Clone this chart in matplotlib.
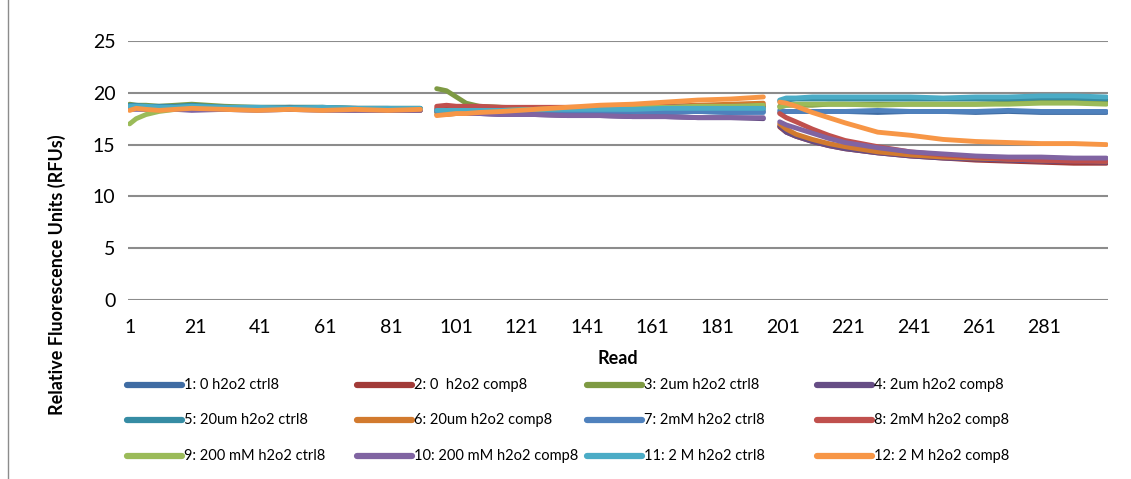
import matplotlib
matplotlib.use("Agg")
import matplotlib.pyplot as plt
from matplotlib.lines import Line2D

# ----------------- FONT -----------------
# Calibri is not available; Lato is the closest humanist sans here
plt.rcParams["font.family"] = ["Lato", "DejaVu Sans"]

# ----------------- DATA -----------------
# read numbers sampled in each of the three plate runs
reads_1 = [1, 3, 6, 10, 15, 20, 30, 40, 50, 60, 70, 80, 90]
reads_2 = [95, 98, 101, 104, 108, 115, 125, 135, 145, 155, 165, 175, 185, 195]
reads_3 = [200, 202, 205, 210, 215, 220, 230, 240, 250, 260, 270, 280, 290, 300]

labels = [
    "1: 0 h2o2 ctrl8", "2: 0  h2o2 comp8", "3: 2um h2o2 ctrl8", "4: 2um h2o2 comp8",
    "5: 20um h2o2 ctrl8", "6: 20um h2o2 comp8", "7: 2mM h2o2 ctrl8", "8: 2mM h2o2 comp8",
    "9: 200 mM h2o2 ctrl8", "10: 200 mM h2o2 comp8", "11: 2 M h2o2 ctrl8", "12: 2 M h2o2 comp8",
]
colors = ["#3F6CA3", "#A23B38", "#7E9A43", "#664D85", "#368CA4", "#D27A2E",
          "#4F81BD", "#C0504D", "#9BBB59", "#8064A2", "#4BACC6", "#F79646"]

s1 = [18.8, 18.7, 18.7, 18.6, 18.6, 18.7, 18.6, 18.5, 18.6, 18.5, 18.5, 18.5, 18.4,
      18.3, 18.3, 18.2, 18.2, 18.2, 18.2, 18.2, 18.2, 18.1, 18.2, 18.1, 18.2, 18.1, 18.2,
      18.1, 18.2, 18.2, 18.2, 18.2, 18.2, 18.1, 18.2, 18.2, 18.1, 18.2, 18.1, 18.1, 18.1]
s2 = [18.6, 18.6, 18.5, 18.5, 18.6, 18.5, 18.5, 18.5, 18.4, 18.5, 18.4, 18.4, 18.4,
      18.5, 18.5, 18.5, 18.5, 18.5, 18.5, 18.5, 18.5, 18.6, 18.6, 18.6, 18.6, 18.7, 18.7,
      16.7, 16.2, 15.8, 15.3, 14.9, 14.6, 14.2, 13.9, 13.7, 13.5, 13.4, 13.3, 13.2, 13.2]
s3 = [18.9, 18.8, 18.8, 18.7, 18.8, 18.9, 18.7, 18.6, 18.6, 18.6, 18.5, 18.5, 18.5,
      20.4, 20.2, 19.6, 19.0, 18.7, 18.6, 18.5, 18.5, 18.5, 18.5, 18.6, 18.6, 18.6, 18.6,
      18.7, 18.8, 18.8, 18.8, 18.9, 18.9, 18.9, 18.9, 18.9, 18.9, 19.0, 19.1, 19.1, 19.1]
s4 = [18.5, 18.5, 18.5, 18.4, 18.5, 18.5, 18.4, 18.4, 18.4, 18.4, 18.4, 18.3, 18.3,
      18.2, 18.1, 18.1, 18.0, 18.0, 17.9, 17.9, 17.8, 17.8, 17.7, 17.7, 17.6, 17.6, 17.5,
      16.8, 16.2, 15.8, 15.3, 14.9, 14.6, 14.2, 13.9, 13.7, 13.6, 13.5, 13.4, 13.4, 13.3]
s5 = [18.8, 18.8, 18.7, 18.7, 18.7, 18.8, 18.6, 18.6, 18.6, 18.6, 18.5, 18.5, 18.5,
      18.2, 18.2, 18.2, 18.2, 18.3, 18.3, 18.3, 18.3, 18.3, 18.4, 18.4, 18.4, 18.4, 18.4,
      19.2, 19.3, 19.4, 19.4, 19.4, 19.4, 19.4, 19.4, 19.4, 19.4, 19.4, 19.5, 19.5, 19.4]
s6 = [18.5, 18.5, 18.4, 18.5, 18.5, 18.4, 18.4, 18.4, 18.4, 18.4, 18.3, 18.4, 18.3,
      17.9, 17.9, 18.0, 18.0, 18.1, 18.2, 18.3, 18.4, 18.5, 18.6, 18.7, 18.8, 18.9, 19.0,
      17.0, 16.5, 16.0, 15.5, 15.1, 14.8, 14.3, 14.0, 13.8, 13.7, 13.6, 13.5, 13.5, 13.4]
s7 = [18.7, 18.7, 18.6, 18.6, 18.6, 18.6, 18.6, 18.5, 18.5, 18.5, 18.5, 18.4, 18.4,
      18.3, 18.2, 18.2, 18.2, 18.2, 18.2, 18.2, 18.2, 18.2, 18.2, 18.1, 18.2, 18.1, 18.1,
      18.3, 18.2, 18.2, 18.2, 18.2, 18.2, 18.3, 18.2, 18.2, 18.2, 18.3, 18.2, 18.2, 18.2]
s8 = [18.6, 18.6, 18.6, 18.5, 18.6, 18.5, 18.5, 18.5, 18.5, 18.4, 18.5, 18.4, 18.4,
      18.7, 18.8, 18.7, 18.7, 18.7, 18.6, 18.6, 18.6, 18.6, 18.6, 18.7, 18.7, 18.7, 18.8,
      18.0, 17.6, 17.2, 16.5, 15.9, 15.4, 14.8, 14.3, 14.0, 13.8, 13.6, 13.5, 13.4, 13.4]
s9 = [17.0, 17.5, 17.9, 18.2, 18.4, 18.5, 18.5, 18.5, 18.5, 18.5, 18.4, 18.4, 18.4,
      18.1, 18.1, 18.2, 18.2, 18.2, 18.3, 18.4, 18.5, 18.5, 18.6, 18.6, 18.7, 18.7, 18.8,
      18.6, 18.8, 18.9, 18.9, 18.9, 18.9, 18.8, 18.9, 18.9, 18.9, 18.9, 19.0, 19.0, 18.9]
s10 = [18.4, 18.4, 18.4, 18.4, 18.4, 18.3, 18.4, 18.3, 18.4, 18.3, 18.3, 18.3, 18.3,
       18.2, 18.1, 18.1, 18.0, 18.0, 17.9, 17.9, 17.8, 17.8, 17.7, 17.7, 17.6, 17.6, 17.6,
       17.2, 16.9, 16.6, 16.1, 15.6, 15.2, 14.7, 14.3, 14.1, 13.9, 13.8, 13.8, 13.7, 13.7]
s11 = [18.7, 18.7, 18.7, 18.6, 18.6, 18.7, 18.6, 18.6, 18.5, 18.6, 18.5, 18.5, 18.5,
       18.3, 18.3, 18.3, 18.3, 18.3, 18.3, 18.4, 18.4, 18.4, 18.4, 18.5, 18.5, 18.5, 18.5,
       19.3, 19.5, 19.5, 19.6, 19.6, 19.6, 19.6, 19.6, 19.5, 19.6, 19.6, 19.7, 19.7, 19.6]
s12 = [18.3, 18.5, 18.4, 18.3, 18.4, 18.5, 18.4, 18.3, 18.4, 18.3, 18.4, 18.3, 18.4,
       17.8, 17.9, 18.0, 18.0, 18.1, 18.2, 18.4, 18.6, 18.8, 18.9, 19.1, 19.3, 19.4, 19.6,
       19.1, 19.0, 18.7, 18.1, 17.6, 17.1, 16.2, 15.9, 15.5, 15.3, 15.2, 15.1, 15.1, 15.0]
series = [s1, s2, s3, s4, s5, s6, s7, s8, s9, s10, s11, s12]

y_ticks = [0, 5, 10, 15, 20, 25]
x_ticks = [1, 21, 41, 61, 81, 101, 121, 141, 161, 181, 201, 221, 241, 261, 281]

# ----------------- FIGURE -----------------
W, H = 1131, 479
fig = plt.figure(figsize=(W / 100, H / 100), dpi=100)
ax = fig.add_axes([128 / W, 1 - 300 / H, (1108 - 128) / W, (300 - 41) / H])

runs = [reads_1, reads_2, reads_3]
for vals, col in zip(series, colors):
    start = 0
    for reads in runs:
        ax.plot(reads, vals[start:start + len(reads)], color=col, lw=3.5,
                solid_capstyle="round", solid_joinstyle="round")
        start += len(reads)

ax.set_xlim(0.5, 300.5)
ax.set_ylim(0, 25)
ax.set_yticks(y_ticks)
ax.set_xticks(x_ticks)
ax.tick_params(length=0, labelsize=14, pad=9)
ax.tick_params(axis="x", pad=14)
ax.grid(axis="y", color="#8C8C8C", lw=1.5)
ax.set_axisbelow(True)
for side in ["top", "right", "left", "bottom"]:
    ax.spines[side].set_visible(False)

fig.text(57 / W, 1 - 275 / H, "Relative Fluorescence Units (RFUs)", rotation=90,
         ha="center", va="center", fontsize=13, fontweight="bold")
fig.text(618 / W, 1 - 358 / H, "Read", ha="center", va="center",
         fontsize=13, fontweight="bold")

# ----------------- LEGEND -----------------
row_y = [385, 420, 456]
col_x = [127, 357, 587, 817]
for i, (lab, col) in enumerate(zip(labels, colors)):
    r, c = divmod(i, 4)
    y = 1 - row_y[r] / H
    x0 = col_x[c] / W
    fig.add_artist(Line2D([x0, x0 + 55 / W], [y, y], color=col, lw=4.5,
                          solid_capstyle="round", transform=fig.transFigure))
    fig.text(x0 + 57 / W, y, lab, ha="left", va="center", fontsize=10.5)

# chart border
fig.add_artist(Line2D([8 / W, 8 / W], [0, 1], color="#8C8C8C", lw=1,
                      transform=fig.transFigure))

fig.savefig("out.png", dpi=100)
